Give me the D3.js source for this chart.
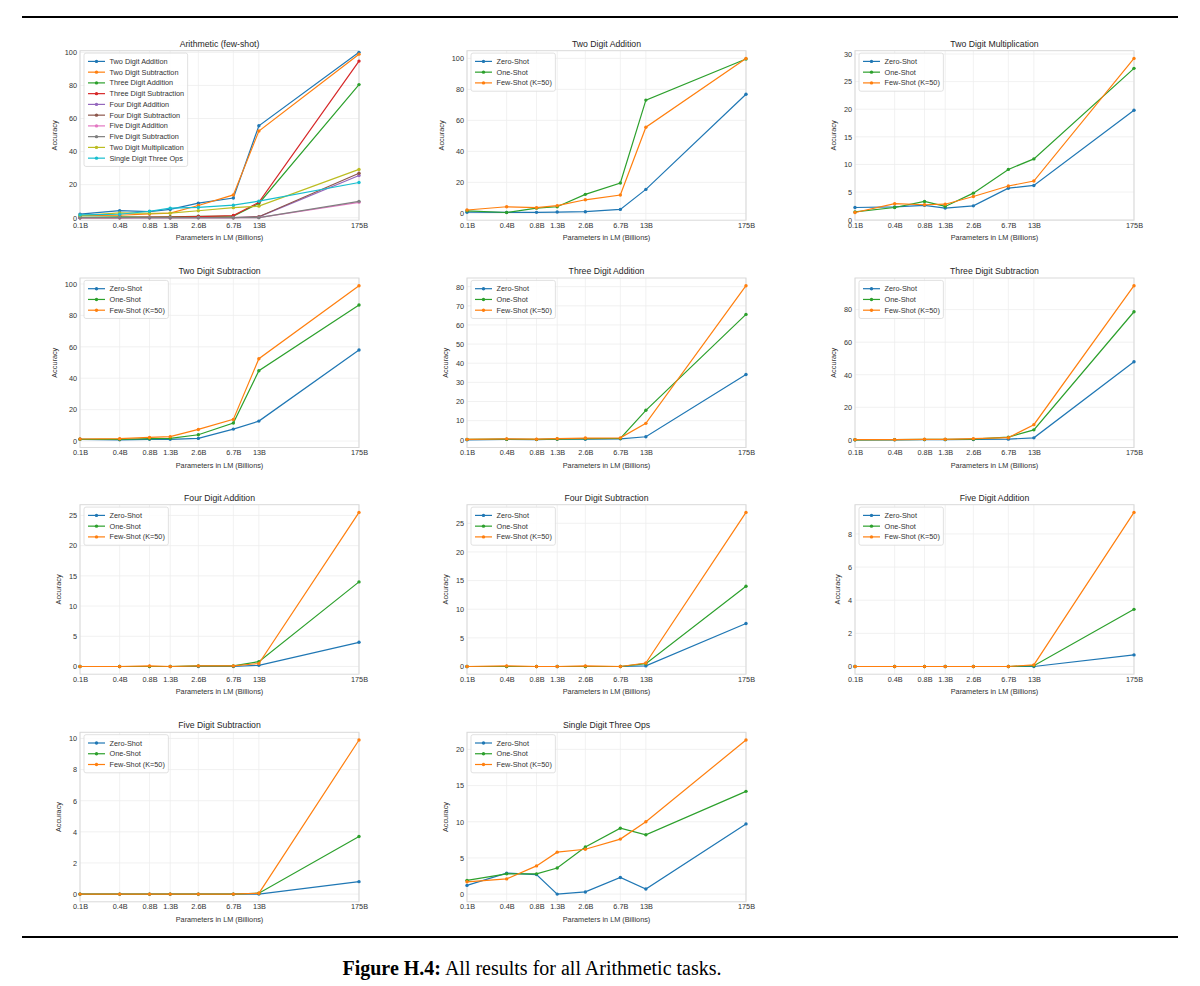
<!DOCTYPE html>
<html>
<head>
<meta charset="utf-8">
<script src="https://cdn.jsdelivr.net/npm/d3@7"></script>
<style>
  body { margin: 0; background: #fff; }
  text { font-family: "Liberation Sans", Arial, sans-serif; }
</style>
</head>
<body>
<svg id="fig" width="1200" height="986"></svg>
<script>
/* global d3 */

// model sizes (billions) and the labels printed under them
var params = [0.125, 0.35, 0.76, 1.3, 2.7, 6.7, 13, 175];
var paramLabels = ["0.1B", "0.4B", "0.8B", "1.3B", "2.6B", "6.7B", "13B", "175B"];

// tasks, in the legend order of the overview panel
var tasks = [
	"Two Digit Addition", "Two Digit Subtraction", "Three Digit Addition", "Three Digit Subtraction",
	"Four Digit Addition", "Four Digit Subtraction", "Five Digit Addition", "Five Digit Subtraction",
	"Two Digit Multiplication", "Single Digit Three Ops"
];

var settings = ["Zero-Shot", "One-Shot", "Few-Shot (K=50)"];

// accuracy per task (rows follow `tasks`), one value per model size
var zeroShot = [
	[0.8, 0.7, 0.7, 0.9, 1.1, 2.6, 15.5, 76.9],
	[1.1, 0.8, 1.1, 1.1, 1.7, 7.6, 12.7, 58.0],
	[0.0, 0.2, 0.1, 0.3, 0.3, 0.5, 1.6, 34.1],
	[0.0, 0.0, 0.1, 0.1, 0.2, 0.4, 1.2, 48.0],
	[0.0, 0.0, 0.0, 0.0, 0.0, 0.0, 0.2, 4.0],
	[0.0, 0.0, 0.0, 0.0, 0.0, 0.0, 0.1, 7.5],
	[0.0, 0.0, 0.0, 0.0, 0.0, 0.0, 0.0, 0.7],
	[0.0, 0.0, 0.0, 0.0, 0.0, 0.0, 0.0, 0.8],
	[2.2, 2.3, 2.6, 2.1, 2.5, 5.7, 6.2, 19.8],
	[1.2, 2.9, 2.7, 0.0, 0.3, 2.3, 0.7, 9.7]
];

var oneShot = [
	[1.7, 0.6, 3.4, 4.3, 12.3, 19.6, 73.1, 99.6],
	[1.1, 1.1, 1.5, 1.7, 4.0, 11.5, 44.8, 86.6],
	[0.2, 0.3, 0.2, 0.4, 0.6, 0.7, 15.4, 65.5],
	[0.0, 0.1, 0.2, 0.2, 0.4, 1.6, 6.1, 78.7],
	[0.0, 0.0, 0.0, 0.0, 0.1, 0.1, 0.8, 14.0],
	[0.0, 0.0, 0.0, 0.0, 0.0, 0.0, 0.5, 14.0],
	[0.0, 0.0, 0.0, 0.0, 0.0, 0.0, 0.05, 3.45],
	[0.0, 0.0, 0.0, 0.0, 0.0, 0.0, 0.06, 3.7],
	[1.4, 2.2, 3.3, 2.4, 4.8, 9.1, 11.0, 27.4],
	[1.9, 2.8, 2.8, 3.6, 6.5, 9.1, 8.2, 14.2]
];

var fewShot = [
	[2.2, 4.3, 3.7, 5.0, 8.8, 11.9, 55.6, 100.0],
	[1.3, 1.5, 2.3, 2.8, 7.4, 13.8, 52.4, 98.9],
	[0.2, 0.5, 0.3, 0.6, 0.9, 1.0, 8.6, 80.5],
	[0.1, 0.1, 0.3, 0.3, 0.7, 1.3, 9.3, 94.7],
	[0.0, 0.0, 0.1, 0.0, 0.1, 0.1, 0.5, 25.5],
	[0.0, 0.1, 0.0, 0.0, 0.1, 0.0, 0.6, 26.9],
	[0.0, 0.0, 0.0, 0.0, 0.0, 0.0, 0.1, 9.3],
	[0.0, 0.0, 0.0, 0.0, 0.0, 0.0, 0.05, 9.9],
	[1.3, 2.9, 2.7, 2.8, 4.2, 6.1, 7.0, 29.2],
	[1.7, 2.1, 3.9, 5.8, 6.2, 7.6, 10.0, 21.3]
];

// y tick spacing per task (rows follow `tasks`), and for the overview
var yTickSteps = [20, 20, 10, 20, 5, 5, 2, 2, 5, 5];
var overviewTickStep = 20;
var overviewDomain = [-1.5, 101];

// order of the task panels in the grid (after the overview)
var gridOrder = [0, 8, 1, 2, 3, 4, 5, 6, 7, 9];

var tab10 = ["#1f77b4", "#ff7f0e", "#2ca02c", "#d62728", "#9467bd",
	"#8c564b", "#e377c2", "#7f7f7f", "#bcbd22", "#17becf"];
var settingColors = ["#1f77b4", "#2ca02c", "#ff7f0e"];

var svg = d3.select("#fig");

var colLeft = [80, 467, 855];
var rowTop = [50.7, 278, 504.7, 732.3];
var panelW = 279, panelH = 169.5;
var smallFont = 7.3, titleFont = 8.7;

var x = d3.scaleLog()
	.domain([params[0], params[params.length - 1]])
	.range([0, panelW]);

function paddedDomain(seriesList) {
	var all = d3.merge(seriesList);
	var lo = d3.min(all), hi = d3.max(all), pad = (hi - lo) * 0.05;
	return [lo - pad, hi + pad];
}

function drawPanel(slot, title, seriesList, names, colors, yDomain, yStep) {

	var g = svg.append("g")
		.attr("transform", "translate(" + colLeft[slot % 3] + "," + rowTop[Math.floor(slot / 3)] + ")");

	var y = d3.scaleLinear().domain(yDomain).range([panelH, 0]);
	var yTicks = d3.range(0, yDomain[1] + 1e-9, yStep).filter(function (v) { return v >= yDomain[0]; });

	//* GRID
	g.selectAll(".vgrid").data(params).enter().append("line")
		.attr("x1", function (d) { return x(d); })
		.attr("x2", function (d) { return x(d); })
		.attr("y1", 0).attr("y2", panelH)
		.attr("stroke", "#eeeeee").attr("stroke-width", 0.8);

	g.selectAll(".hgrid").data(yTicks).enter().append("line")
		.attr("x1", 0).attr("x2", panelW)
		.attr("y1", function (d) { return y(d); })
		.attr("y2", function (d) { return y(d); })
		.attr("stroke", "#eeeeee").attr("stroke-width", 0.8);

	//* FRAME
	g.append("rect")
		.attr("width", panelW).attr("height", panelH)
		.attr("fill", "none").attr("stroke", "#d9d9d9").attr("stroke-width", 1);

	//* AXES
	var xAxis = g.append("g")
		.attr("transform", "translate(0," + panelH + ")")
		.call(d3.axisBottom(x)
			.tickValues(params)
			.tickFormat(function (d, k) { return paramLabels[k]; })
			.tickSize(0).tickPadding(2.5));

	var yAxis = g.append("g")
		.call(d3.axisLeft(y).tickValues(yTicks).tickFormat(d3.format("d")).tickSize(0).tickPadding(3));

	[xAxis, yAxis].forEach(function (a) {
		a.select(".domain").remove();
		a.selectAll("text")
			.attr("font-family", '"Liberation Sans", Arial, sans-serif')
			.attr("font-size", smallFont)
			.attr("fill", "#333");
	});

	var yBox = yAxis.node().getBBox();

	g.append("text")
		.attr("transform", "translate(" + (yBox.x - 8) + "," + (panelH / 2) + ") rotate(-90)")
		.attr("text-anchor", "middle")
		.attr("font-size", smallFont)
		.attr("fill", "#333")
		.text("Accuracy");

	g.append("text")
		.attr("x", panelW / 2).attr("y", panelH + 20)
		.attr("text-anchor", "middle")
		.attr("font-size", smallFont)
		.attr("fill", "#333")
		.text("Parameters in LM (Billions)");

	//* TITLE
	g.append("text")
		.attr("x", panelW / 2).attr("y", -4)
		.attr("text-anchor", "middle")
		.attr("font-size", titleFont)
		.attr("fill", "#262626")
		.text(title);

	//* SERIES
	var line = d3.line()
		.x(function (d, k) { return x(params[k]); })
		.y(function (d) { return y(d); });

	seriesList.forEach(function (values, s) {
		g.append("path")
			.datum(values)
			.attr("d", line)
			.attr("fill", "none")
			.attr("stroke", colors[s])
			.attr("stroke-width", 1.2);

		g.selectAll(".pt" + s).data(values).enter().append("circle")
			.attr("cx", function (d, k) { return x(params[k]); })
			.attr("cy", function (d) { return y(d); })
			.attr("r", 1.7)
			.attr("fill", colors[s]);
	});

	//* LEGEND
	var rowH = 10.75, padY = 8.3;
	var leg = g.append("g").attr("transform", "translate(4,2.4)");
	var box = leg.append("rect")
		.attr("rx", 2).attr("ry", 2)
		.attr("fill", "#fff").attr("fill-opacity", 0.85)
		.attr("stroke", "#d9d9d9").attr("stroke-width", 0.8);

	var maxW = 0;
	names.forEach(function (name, s) {
		var cy = padY + s * rowH;
		leg.append("line")
			.attr("x1", 4).attr("x2", 21).attr("y1", cy).attr("y2", cy)
			.attr("stroke", colors[s]).attr("stroke-width", 1.2);
		leg.append("circle")
			.attr("cx", 12.5).attr("cy", cy).attr("r", 1.7).attr("fill", colors[s]);
		var t = leg.append("text")
			.attr("x", 25.5).attr("y", cy).attr("dy", "0.35em")
			.attr("font-size", smallFont)
			.attr("fill", "#333")
			.text(name);
		maxW = Math.max(maxW, t.node().getComputedTextLength());
	});

	box.attr("width", 25.5 + maxW + 3.5)
		.attr("height", padY * 2 + (names.length - 1) * rowH);
}

// overview: few-shot results of every task
drawPanel(0, "Arithmetic (few-shot)", fewShot, tasks, tab10, overviewDomain, overviewTickStep);

gridOrder.forEach(function (t, k) {
	var series = [zeroShot[t], oneShot[t], fewShot[t]];
	drawPanel(k + 1, tasks[t], series, settings, settingColors, paddedDomain(series), yTickSteps[t]);
});

//* FIGURE RULES AND CAPTION
[17, 937].forEach(function (yy) {
	svg.append("line")
		.attr("x1", 22).attr("x2", 1178).attr("y1", yy).attr("y2", yy)
		.attr("stroke", "#000").attr("stroke-width", 2);
});

var cap = svg.append("text")
	.attr("x", 532).attr("y", 975)
	.attr("text-anchor", "middle")
	.style("font-family", '"Liberation Serif", "Times New Roman", serif')
	.attr("font-size", 20)
	.attr("fill", "#000");
cap.append("tspan").attr("font-weight", "bold").text("Figure H.4:");
cap.append("tspan").text(" All results for all Arithmetic tasks.");
</script>
</body>
</html>
